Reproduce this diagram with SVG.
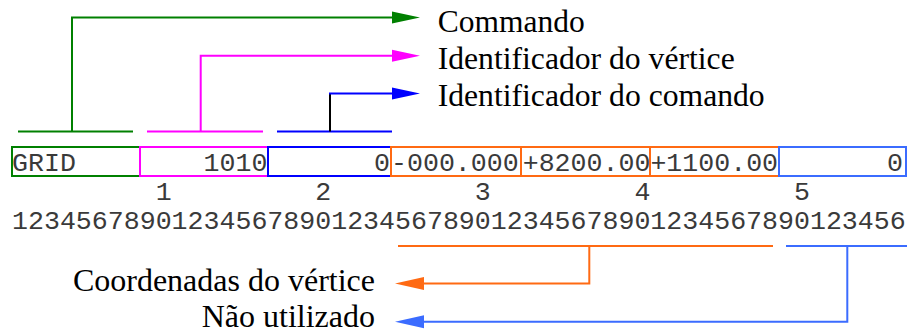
<svg xmlns="http://www.w3.org/2000/svg" width="909" height="333" viewBox="0 0 909 333">
  <style>
    .lbl { font-family: "Liberation Serif", "Times New Roman", serif; font-size: 32px; fill: #000; }
    .mono { font-family: "Liberation Mono", "Courier New", monospace; font-size: 26.6px; fill: #3a3a3a; white-space: pre; }
    .box { fill: #fff; stroke-width: 2; }
    .wire { fill: none; stroke-width: 2; }
    .green { stroke: #008000; }
    .pink { stroke: #ff00ff; }
    .blue { stroke: #0000ff; }
    .orange { stroke: #ff6a13; }
    .sky { stroke: #3b6cff; }
  </style>
  <defs>
    <marker id="ah-green" markerUnits="userSpaceOnUse" markerWidth="28" markerHeight="12" refX="0" refY="6" orient="auto" overflow="visible">
      <path d="M0,0 L28,6 L0,12 Z" fill="#008000"/>
    </marker>
    <marker id="ah-pink" markerUnits="userSpaceOnUse" markerWidth="28" markerHeight="12" refX="0" refY="6" orient="auto" overflow="visible">
      <path d="M0,0 L28,6 L0,12 Z" fill="#ff00ff"/>
    </marker>
    <marker id="ah-blue" markerUnits="userSpaceOnUse" markerWidth="28" markerHeight="12" refX="0" refY="6" orient="auto" overflow="visible">
      <path d="M0,0 L28,6 L0,12 Z" fill="#0000ff"/>
    </marker>
    <marker id="ah-orange" markerUnits="userSpaceOnUse" markerWidth="29" markerHeight="13" refX="0" refY="6.5" orient="auto" overflow="visible">
      <path d="M0,0 L29,6.5 L0,13 Z" fill="#ff6a13"/>
    </marker>
    <marker id="ah-sky" markerUnits="userSpaceOnUse" markerWidth="29" markerHeight="13" refX="0" refY="6.5" orient="auto" overflow="visible">
      <path d="M0,0 L29,6.5 L0,13 Z" fill="#3b6cff"/>
    </marker>
  </defs>

  <!-- card fields -->
  <g id="field-grid">
    <rect class="box green" x="12" y="147" width="128" height="29"/>
    <text class="mono" x="12" y="171">GRID</text>
  </g>
  <g id="field-vertex-id">
    <rect class="box pink" x="140" y="147" width="128" height="29"/>
    <text class="mono" x="203.5" y="171">1010</text>
  </g>
  <g id="field-command-id">
    <rect class="box blue" x="268" y="147" width="123" height="29"/>
    <text class="mono" x="374" y="171">0</text>
  </g>
  <g id="field-x">
    <rect class="box orange" x="391" y="147" width="130" height="29"/>
    <text class="mono" x="391" y="171">-000.000</text>
  </g>
  <g id="field-y">
    <rect class="box orange" x="521" y="147" width="129" height="29"/>
    <text class="mono" x="522.7" y="171">+8200.00</text>
  </g>
  <g id="field-z">
    <rect class="box orange" x="650" y="147" width="129" height="29"/>
    <text class="mono" x="650.4" y="171">+1100.00</text>
  </g>
  <g id="field-unused">
    <rect class="box sky" x="779" y="147" width="127" height="29"/>
    <text class="mono" x="887" y="171">0</text>
  </g>

  <!-- column ruler -->
  <g id="ruler">
    <text class="mono" x="12" y="200" xml:space="preserve">         1         2         3         4         5</text>
    <text class="mono" x="12" y="229">12345678901234567890123456789012345678901234567890123456</text>
  </g>

  <!-- labels -->
  <g id="label-commando">
    <text class="lbl" x="437.7" y="32" textLength="147" lengthAdjust="spacingAndGlyphs">Commando</text>
  </g>
  <g id="label-vertex-id">
    <text class="lbl" x="437.7" y="68.5" textLength="297" lengthAdjust="spacingAndGlyphs">Identificador do vértice</text>
  </g>
  <g id="label-command-id">
    <text class="lbl" x="437.7" y="106" textLength="327" lengthAdjust="spacingAndGlyphs">Identificador do comando</text>
  </g>
  <g id="label-coords">
    <text class="lbl" x="375" y="291" text-anchor="end">Coordenadas do vértice</text>
  </g>
  <g id="label-unused">
    <text class="lbl" x="375" y="326.5" text-anchor="end">Não utilizado</text>
  </g>

  <!-- connectors -->
  <g id="connectors">
    <line class="wire green" x1="18" y1="131.5" x2="133" y2="131.5"/>
    <polyline class="wire green" points="72,131.5 72,17.5 392,17.5" marker-end="url(#ah-green)"/>

    <line class="wire pink" x1="147" y1="131.5" x2="263" y2="131.5"/>
    <polyline class="wire pink" points="200.7,131.5 200.7,55.7 392,55.7" marker-end="url(#ah-pink)"/>

    <line class="wire blue" x1="277" y1="131.5" x2="392" y2="131.5"/>
    <line class="wire" stroke="#000" x1="330" y1="131.5" x2="330" y2="93.5"/>
    <line class="wire blue" x1="329" y1="93.5" x2="392" y2="93.5" marker-end="url(#ah-blue)"/>

    <line class="wire orange" x1="398" y1="246" x2="773" y2="246"/>
    <polyline class="wire orange" points="589.3,246 589.3,283.5 424,283.5" marker-end="url(#ah-orange)"/>

    <line class="wire sky" x1="786" y1="246" x2="907" y2="246"/>
    <polyline class="wire sky" points="847.3,246 847.3,321.7 424,321.7" marker-end="url(#ah-sky)"/>
  </g>
</svg>
